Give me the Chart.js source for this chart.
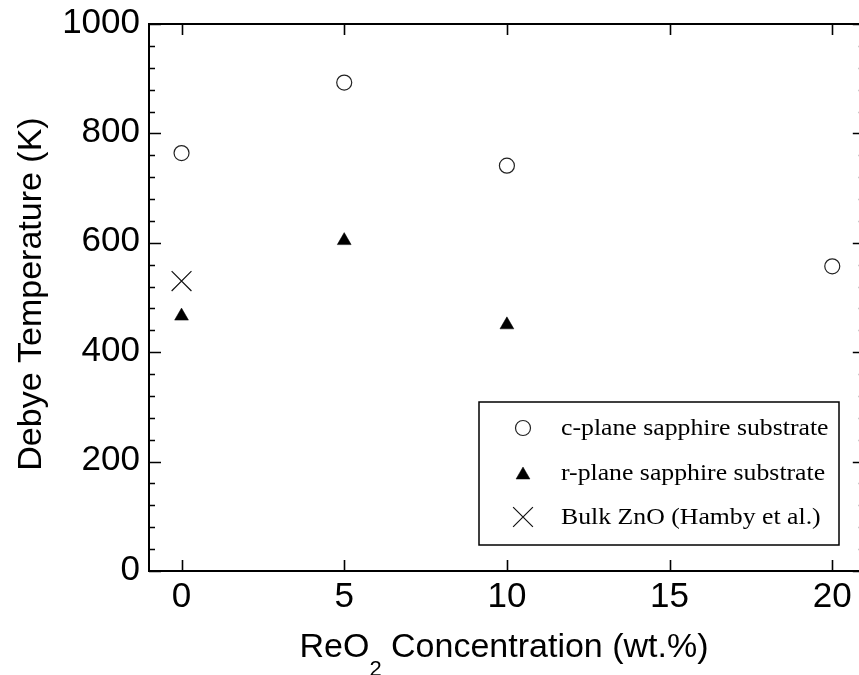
<!DOCTYPE html>
<html lang="en">
<head>
    <meta charset="UTF-8">
    <title>Debye Temperature vs ReO2 Concentration</title>
    <style>
        html, body { margin: 0; padding: 0; background: #fff; overflow: hidden; }
        #wrap { width: 859px; height: 675px; overflow: hidden; }
        #debye-chart { display: block; }
    </style>
</head>
<body>
    <div id="wrap">
        <canvas id="debye-chart" width="880" height="675" style="width:880px;height:675px"></canvas>
    </div>

    <script src="https://cdn.jsdelivr.net/npm/chart.js"></script>
    <script>
        // data
        const cPlaneX = [0, 5, 10, 20];
        const cPlaneY = [764, 893, 741, 557];
        const rPlaneX = [0, 5, 10];
        const rPlaneY = [466, 604, 450];
        const bulkX = [0];
        const bulkY = [530];

        const seriesLabels = ["c-plane sapphire substrate", "r-plane sapphire substrate", "Bulk ZnO (Hamby et al.)"];
        const xTickValues = [0, 5, 10, 15, 20];
        const yTickValues = [0, 40, 80, 120, 160, 200, 240, 280, 320, 360, 400, 440, 480, 520, 560, 600,
                             640, 680, 720, 760, 800, 840, 880, 920, 960, 1000];
        const yLabelValues = [0, 200, 400, 600, 800, 1000];

        const toPoints = (xs, ys) => xs.map((x, i) => ({ x: x, y: ys[i] }));

        // box, inward ticks, axis titles and legend
        const framePlugin = {
            id: "frame",
            afterDraw(chart) {
                const ctx = chart.ctx;
                const area = chart.chartArea;
                const xs = chart.scales.x;
                const ys = chart.scales.y;
                const left = area.left, top = area.top, right = area.right, bottom = area.bottom;

                ctx.save();
                ctx.strokeStyle = "#000";
                ctx.lineWidth = 2;
                ctx.strokeRect(left, top, right - left, bottom - top);

                ctx.lineWidth = 1.6;
                ctx.beginPath();
                xTickValues.forEach(v => {
                    const px = Math.round(xs.getPixelForValue(v)) + 0.5;
                    ctx.moveTo(px, bottom); ctx.lineTo(px, bottom - 11);
                    ctx.moveTo(px, top); ctx.lineTo(px, top + 11);
                });
                yTickValues.forEach(v => {
                    const py = Math.round(ys.getPixelForValue(v)) + 0.5;
                    const len = yLabelValues.includes(v) ? 12 : 6;
                    ctx.moveTo(left, py); ctx.lineTo(left + len, py);
                    ctx.moveTo(right, py); ctx.lineTo(right - len, py);
                });
                ctx.stroke();

                // y title
                ctx.fillStyle = "#000";
                ctx.font = "34px 'Liberation Sans', Arial, sans-serif";
                ctx.save();
                ctx.translate(41, 294);
                ctx.rotate(-Math.PI / 2);
                ctx.textAlign = "center";
                ctx.textBaseline = "alphabetic";
                ctx.fillText("Debye Temperature (K)", 0, 0);
                ctx.restore();

                // x title with subscript
                const partA = "ReO", partSub = "2", partB = " Concentration (wt.%)";
                ctx.font = "34px 'Liberation Sans', Arial, sans-serif";
                const wA = ctx.measureText(partA).width;
                const wB = ctx.measureText(partB).width;
                ctx.font = "22px 'Liberation Sans', Arial, sans-serif";
                const wS = ctx.measureText(partSub).width;
                let tx = 504 - (wA + wS + wB) / 2;
                const base = 657;
                ctx.textAlign = "left";
                ctx.textBaseline = "alphabetic";
                ctx.font = "34px 'Liberation Sans', Arial, sans-serif";
                ctx.fillText(partA, tx, base);
                ctx.font = "22px 'Liberation Sans', Arial, sans-serif";
                ctx.fillText(partSub, tx + wA, base + 19);
                ctx.font = "34px 'Liberation Sans', Arial, sans-serif";
                ctx.fillText(partB, tx + wA + wS, base);

                // legend
                ctx.lineWidth = 1.5;
                ctx.strokeRect(479, 402, 360, 143);
                ctx.font = "23px 'Liberation Serif', 'Times New Roman', serif";
                ctx.textBaseline = "middle";
                const rows = [428, 473, 517];
                chart.data.datasets.forEach((ds, i) => {
                    const cy = rows[i];
                    ctx.fillStyle = ds.backgroundColor;
                    ctx.strokeStyle = ds.borderColor;
                    ctx.lineWidth = ds.borderWidth;
                    Chart.helpers.drawPoint(ctx, {
                        pointStyle: ds.pointStyle,
                        radius: ds.pointRadius,
                        rotation: 0,
                        borderWidth: ds.borderWidth
                    }, 523, ds.pointStyle === "triangle" ? cy + 2 : cy);
                    ctx.fillStyle = "#000";
                    ctx.save();
                    ctx.translate(561, cy + 1);
                    ctx.scale(1.12, 1);
                    ctx.fillText(ds.label, 0, 0);
                    ctx.restore();
                });
                ctx.restore();
            }
        };

        new Chart(document.getElementById("debye-chart"), {
            type: "scatter",
            data: {
                datasets: [
                    {
                        label: seriesLabels[0],
                        data: toPoints(cPlaneX, cPlaneY),
                        pointStyle: "circle",
                        pointRadius: 7.5,
                        backgroundColor: "rgba(255,255,255,0)",
                        borderColor: "#222",
                        borderWidth: 1.2
                    },
                    {
                        label: seriesLabels[1],
                        data: toPoints(rPlaneX, rPlaneY),
                        pointStyle: "triangle",
                        pointRadius: 8,
                        backgroundColor: "#000",
                        borderColor: "#000",
                        borderWidth: 0.5
                    },
                    {
                        label: seriesLabels[2],
                        data: toPoints(bulkX, bulkY),
                        pointStyle: "crossRot",
                        pointRadius: 14,
                        backgroundColor: "#000",
                        borderColor: "#111",
                        borderWidth: 1.2
                    }
                ]
            },
            options: {
                responsive: false,
                maintainAspectRatio: false,
                animation: false,
                layout: { padding: { top: 24, right: 2, left: 0, bottom: 0 } },
                plugins: {
                    legend: { display: false },
                    tooltip: { enabled: false }
                },
                scales: {
                    x: {
                        type: "linear",
                        min: -1,
                        max: 21,
                        grid: { display: false, drawTicks: false, tickLength: 0 },
                        border: { display: false },
                        afterBuildTicks: s => { s.ticks = xTickValues.map(v => ({ value: v })); },
                        afterFit: s => { s.height = 104; s.paddingLeft = 0; s.paddingRight = 0; },
                        ticks: {
                            autoSkip: false,
                            maxRotation: 0,
                            padding: 5,
                            color: "#000",
                            font: { family: "'Liberation Sans', Arial, sans-serif", size: 35 }
                        }
                    },
                    y: {
                        type: "linear",
                        min: 0,
                        max: 1000,
                        grid: { display: false, drawTicks: false, tickLength: 0 },
                        border: { display: false },
                        afterBuildTicks: s => { s.ticks = yTickValues.map(v => ({ value: v })); },
                        afterFit: s => { s.width = 149; s.paddingTop = 0; s.paddingBottom = 0; },
                        ticks: {
                            autoSkip: false,
                            padding: 9,
                            labelOffset: -1,
                            color: "#000",
                            font: { family: "'Liberation Sans', Arial, sans-serif", size: 35 },
                            callback: v => yLabelValues.includes(v) ? String(v) : ""
                        }
                    }
                }
            },
            plugins: [framePlugin]
        });
    </script>
</body>
</html>
